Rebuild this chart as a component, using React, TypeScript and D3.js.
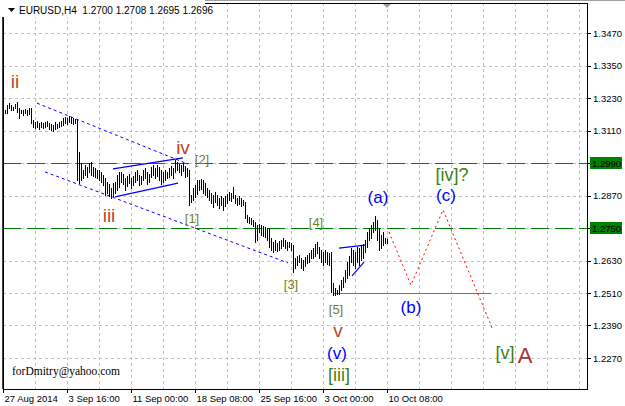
import React from 'react';
import * as d3 from 'd3';

// ---- data ----
const SYMBOL = 'EURUSD,H4';
const LAST_OHLC = ['1.2700', '1.2708', '1.2695', '1.2696'];
const PRICE_TICKS = [1.347, 1.335, 1.323, 1.311, 1.299, 1.287, 1.275, 1.263, 1.251, 1.239, 1.227];
const TIME_LABELS = ['27 Aug 2014', '3 Sep 16:00', '11 Sep 00:00', '18 Sep 08:00', '25 Sep 16:00', '3 Oct 00:00', '10 Oct 08:00'];
const TIME_LABEL_BARS = [0, 32, 64, 96, 128, 160, 192];
const FIRST_BAR = 1;
const BAR_HIGHS = [
  1.3186, 1.3204, 1.3211, 1.3204, 1.3197, 1.3208, 1.3215, 1.3193, 1.3186, 1.3186,
  1.3189, 1.3186, 1.3193, 1.3193, 1.3149, 1.3141, 1.3145, 1.3138, 1.3141, 1.3138,
  1.3141, 1.3145, 1.3138, 1.3134, 1.3130, 1.3141, 1.3134, 1.3141, 1.3145, 1.3156,
  1.3160, 1.3156, 1.3164, 1.3160, 1.3156, 1.3153, 1.3149, 1.3031, 1.2990, 1.2964,
  1.2983, 1.2975, 1.2990, 1.2994, 1.2975, 1.2971, 1.2964, 1.2964, 1.2957, 1.2946,
  1.2935, 1.2920, 1.2913, 1.2898, 1.2916, 1.2920, 1.2946, 1.2957, 1.2957, 1.2949,
  1.2935, 1.2942, 1.2949, 1.2935, 1.2942, 1.2957, 1.2964, 1.2946, 1.2942, 1.2964,
  1.2971, 1.2957, 1.2949, 1.2975, 1.2983, 1.2971, 1.2983, 1.2975, 1.2964, 1.2957,
  1.2964, 1.2957, 1.2971, 1.2979, 1.2971, 1.3001, 1.2994, 1.2986, 1.2983, 1.2990,
  1.2979, 1.2971, 1.2964, 1.2872, 1.2898, 1.2909, 1.2927, 1.2927, 1.2931, 1.2927,
  1.2916, 1.2898, 1.2890, 1.2879, 1.2872, 1.2883, 1.2872, 1.2861, 1.2868, 1.2861,
  1.2868, 1.2876, 1.2883, 1.2879, 1.2901, 1.2872, 1.2861, 1.2868, 1.2861, 1.2854,
  1.2846, 1.2798, 1.2791, 1.2787, 1.2780, 1.2772, 1.2761, 1.2765, 1.2761, 1.2758,
  1.2754, 1.2750, 1.2750, 1.2713, 1.2698, 1.2706, 1.2695, 1.2702, 1.2706, 1.2713,
  1.2706, 1.2698, 1.2698, 1.2695, 1.2687, 1.2639, 1.2647, 1.2650, 1.2639, 1.2632,
  1.2643, 1.2650, 1.2658, 1.2669, 1.2676, 1.2691, 1.2698, 1.2680, 1.2669, 1.2661,
  1.2669, 1.2661, 1.2658, 1.2661, 1.2547, 1.2528, 1.2521, 1.2539, 1.2558, 1.2569,
  1.2595, 1.2624, 1.2647, 1.2676, 1.2669, 1.2661, 1.2680, 1.2676, 1.2687, 1.2691,
  1.2706, 1.2735, 1.2750, 1.2761, 1.2772, 1.2795, 1.2780, 1.2750, 1.2724, 1.2735,
  1.2713, 1.2708,
];
const BAR_LOWS = [
  1.3175, 1.3175, 1.3193, 1.3186, 1.3186, 1.3193, 1.3178, 1.3156, 1.3175, 1.3167,
  1.3175, 1.3167, 1.3171, 1.3138, 1.3123, 1.3119, 1.3123, 1.3116, 1.3123, 1.3119,
  1.3123, 1.3127, 1.3116, 1.3112, 1.3108, 1.3116, 1.3119, 1.3123, 1.3127, 1.3130,
  1.3138, 1.3134, 1.3141, 1.3138, 1.3134, 1.3138, 1.2927, 1.2916, 1.2927, 1.2935,
  1.2946, 1.2938, 1.2957, 1.2946, 1.2942, 1.2938, 1.2935, 1.2927, 1.2920, 1.2909,
  1.2872, 1.2879, 1.2868, 1.2861, 1.2868, 1.2879, 1.2890, 1.2901, 1.2920, 1.2913,
  1.2890, 1.2905, 1.2916, 1.2898, 1.2909, 1.2920, 1.2927, 1.2909, 1.2913, 1.2927,
  1.2935, 1.2913, 1.2920, 1.2938, 1.2946, 1.2935, 1.2942, 1.2927, 1.2913, 1.2920,
  1.2927, 1.2935, 1.2938, 1.2946, 1.2935, 1.2957, 1.2964, 1.2957, 1.2946, 1.2960,
  1.2938, 1.2942, 1.2835, 1.2846, 1.2854, 1.2865, 1.2876, 1.2890, 1.2894, 1.2879,
  1.2872, 1.2865, 1.2854, 1.2842, 1.2828, 1.2846, 1.2835, 1.2824, 1.2835, 1.2817,
  1.2831, 1.2842, 1.2854, 1.2850, 1.2861, 1.2842, 1.2835, 1.2839, 1.2831, 1.2835,
  1.2787, 1.2772, 1.2769, 1.2765, 1.2758, 1.2698, 1.2706, 1.2735, 1.2724, 1.2721,
  1.2717, 1.2706, 1.2680, 1.2669, 1.2661, 1.2669, 1.2665, 1.2669, 1.2676, 1.2684,
  1.2676, 1.2669, 1.2680, 1.2669, 1.2587, 1.2602, 1.2613, 1.2624, 1.2602, 1.2595,
  1.2610, 1.2621, 1.2624, 1.2639, 1.2639, 1.2647, 1.2658, 1.2639, 1.2624, 1.2613,
  1.2624, 1.2617, 1.2613, 1.2513, 1.2502, 1.2502, 1.2506, 1.2506, 1.2521, 1.2532,
  1.2550, 1.2565, 1.2576, 1.2624, 1.2613, 1.2602, 1.2624, 1.2613, 1.2632, 1.2639,
  1.2661, 1.2680, 1.2706, 1.2713, 1.2735, 1.2743, 1.2706, 1.2669, 1.2676, 1.2687,
  1.2695, 1.2695,
];

// horizontal levels
const LEVELS = [1.299, 1.275];
// channel & triangle lines: [barIndex, price] pairs
const CHANNEL_UPPER: [number, number][] = [[17, 1.3211], [92.5, 1.2986]];
const CHANNEL_LOWER: [number, number][] = [[21, 1.2957], [142.5, 1.2621]];
const TRI_IV_UPPER: [number, number][] = [[55, 1.2968], [90, 1.3009]];
const TRI_IV_LOWER: [number, number][] = [[56, 1.2865], [87.5, 1.2916]];
const TRI_A_UPPER: [number, number][] = [[168, 1.2676], [181, 1.2687]];
const TRI_A_LOWER: [number, number][] = [[174.5, 1.2573], [180.5, 1.2624]];
const SUPPORT_LINE: [number, number][] = [[165, 1.251], [244, 1.251]];
const PROJECTION: [number, number][] = [[193, 1.2735], [204, 1.2539], [220, 1.2817], [245, 1.2373]];

// wave labels: text, bar index, baseline price
const ROMAN_LABELS: [string, number, number][] = [['ii', 6, 1.3267], ['iii', 53, 1.2772], ['iv', 90, 1.3023], ['v', 167.5, 1.2348]];
const PAREN_LABELS: [string, number, number][] = [['(a)', 187.5, 1.2842], ['(b)', 204, 1.2436], ['(c)', 221.5, 1.285], ['(v)', 167, 1.2266]];
const BRACKET_LABELS: [string, number, number][] = [['[iv]?', 224.5, 1.2924], ['[v]', 251, 1.2266], ['[iii]', 168, 1.2185]];
const MINOR_LABELS: [string, number, number][] = [['[1]', 94.5, 1.2768], ['[2]', 99.5, 1.2986], ['[3]', 144, 1.2525], ['[4]', 156.5, 1.2754], ['[5]', 166.5, 1.2432]];
const BIG_LABELS: [string, number, number][] = [['A', 261, 1.2252]];
const WATERMARK = 'forDmitry@yahoo.com';

// ---- layout ----
const W = 625, H = 406;
const L = 3, T = 3, R = 587, B = 389;
const FONT = '"Liberation Sans", Arial, sans-serif';

export default function App() {
  const x = d3.scaleLinear().domain([0, 192]).range([3, 387]);
  const y = d3.scaleLinear().domain([1.227, 1.347]).range([358, 33]);
  const line = d3.line<[number, number]>().x(d => x(d[0])).y(d => y(d[1]));
  const gridBars = d3.range(16, 289, 16);
  const px = (v: number) => Math.round(v) + 0.5;
  const fmt = d3.format('.4f');
  const levelSet = new Set(LEVELS.map(fmt));

  return (
    <svg width={W} height={H} style={{ position: 'absolute', left: 0, top: 0, background: '#fff' }} fontFamily={FONT}>
      <rect x={0} y={0} width={W} height={H} fill="#fff" />
      {/* grid */}
      <g stroke="#c0c0c0" strokeDasharray="3,3" shapeRendering="crispEdges">
        {gridBars.map(i => <line key={'v' + i} x1={px(x(i))} x2={px(x(i))} y1={T} y2={B} />)}
        {PRICE_TICKS.map(p => <line key={'h' + p} x1={L} x2={R} y1={px(y(p))} y2={px(y(p))} />)}
      </g>
      {/* horizontal levels */}
      <g stroke="#008000" strokeDasharray="18,6" shapeRendering="crispEdges">
        {LEVELS.map(p => <line key={p} x1={L} x2={R} y1={px(y(p))} y2={px(y(p))} />)}
      </g>
      {/* channel */}
      <g fill="none" stroke="#0000ff" strokeDasharray="3,3">
        <path d={line(CHANNEL_UPPER) || ''} />
        <path d={line(CHANNEL_LOWER) || ''} />
      </g>
      <g fill="none" stroke="#0000ff" strokeWidth={1.2}>
        <path d={line(TRI_IV_UPPER) || ''} />
        <path d={line(TRI_IV_LOWER) || ''} />
        <path d={line(TRI_A_UPPER) || ''} />
        <path d={line(TRI_A_LOWER) || ''} />
      </g>
      <path d={line(SUPPORT_LINE) || ''} stroke="#cc33cc" fill="none" shapeRendering="crispEdges" />
      <path d={line(PROJECTION) || ''} stroke="#ff0000" strokeDasharray="2,3" fill="none" />
      {/* bars */}
      <g stroke="#000" shapeRendering="crispEdges">
        {BAR_HIGHS.map((h, k) => {
          const xi = px(x(FIRST_BAR + k));
          return <line key={k} x1={xi} x2={xi} y1={Math.round(y(h))} y2={Math.round(y(BAR_LOWS[k])) + 1} />;
        })}
      </g>
      {/* labels */}
      <g textAnchor="middle">
        {ROMAN_LABELS.map(([t, i, p]) => <text key={t} x={x(i)} y={y(p)} fontSize={19} fill="#c0432b">{t}</text>)}
        {BIG_LABELS.map(([t, i, p]) => <text key={t} x={x(i)} y={y(p)} fontSize={22} fill="#a83232">{t}</text>)}
        {PAREN_LABELS.map(([t, i, p]) => <text key={t} x={x(i)} y={y(p)} fontSize={17} fill="#0000ff">{t}</text>)}
        {BRACKET_LABELS.map(([t, i, p]) => <text key={t} x={x(i)} y={y(p)} fontSize={18} fill="#3f7f10">{t}</text>)}
        {MINOR_LABELS.map(([t, i, p]) => <text key={t} x={x(i)} y={y(p)} fontSize={13} fill="#748030">{t}</text>)}
      </g>
      <text x={12} y={375} fontFamily='"Liberation Serif", "Times New Roman", serif' fontSize={11.5} fill="#000">{WATERMARK}</text>
      {/* frame */}
      <line x1={0} x2={W} y1={0.5} y2={0.5} stroke="#a0a0a0" />
      <rect x={L + 0.5} y={T + 0.5} width={R - L} height={B - T} fill="none" stroke="#000" shapeRendering="crispEdges" />
      <line x1={L} x2={L} y1={T} y2={B} stroke="#000" strokeWidth={1.5} />
      {/* header */}
      <rect x={0} y={0} width={205} height={17} fill="#fff" />
      <path d="M8,8 L15,8 L11.5,12 Z" fill="#000" />
      <text x={19} y={14} fontSize={10} fill="#000" xmlSpace="preserve">{SYMBOL + '  ' + LAST_OHLC.join(' ')}</text>
      <path d={`M${x(192) - 4},${T + 1} L${x(192) + 4},${T + 1} L${x(192)},${T + 5} Z`} fill="#a0a0a0" />
      {/* price axis */}
      <g fontSize={9.5} fill="#000">
        {PRICE_TICKS.map(p => (
          <g key={p}>
            <line x1={R} x2={R + 4} y1={px(y(p))} y2={px(y(p))} stroke="#000" shapeRendering="crispEdges" />
            {levelSet.has(fmt(p)) ? null : <text x={R + 6} y={y(p) + 3.5}>{fmt(p)}</text>}
          </g>
        ))}
        {LEVELS.map(p => (
          <g key={'lv' + p}>
            <rect x={R + 3} y={Math.round(y(p)) - 6} width={32} height={12} fill="#008000" />
            <text x={R + 5} y={y(p) + 3.5}>{fmt(p)}</text>
          </g>
        ))}
      </g>
      {/* time axis */}
      <g fontSize={9.5} fill="#000">
        {TIME_LABELS.map((t, k) => {
          const xi = px(x(TIME_LABEL_BARS[k]));
          return (
            <g key={t}>
              <line x1={xi} x2={xi} y1={B} y2={B + 4} stroke="#000" shapeRendering="crispEdges" />
              <text x={xi + 1} y={B + 13}>{t}</text>
            </g>
          );
        })}
      </g>
    </svg>
  );
}
